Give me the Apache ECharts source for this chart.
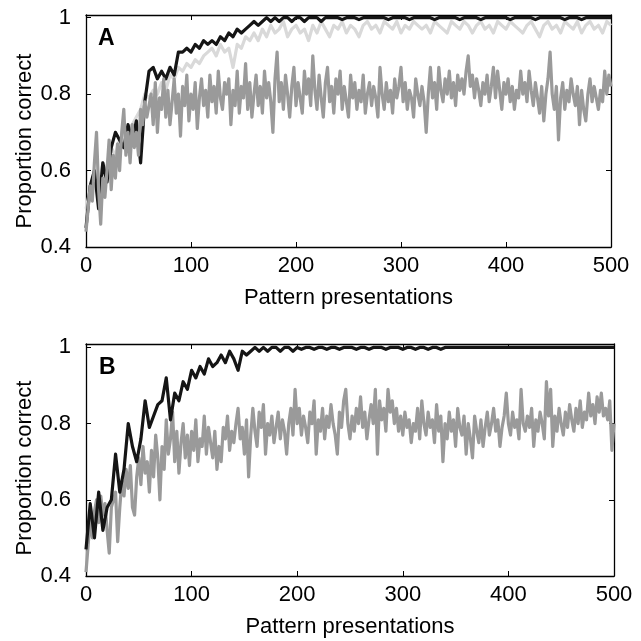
<!DOCTYPE html>
<html>
<head>
<meta charset="utf-8">
<script src="https://cdn.jsdelivr.net/npm/echarts@6/dist/echarts.min.js"></script>
<style>
html,body{margin:0;padding:0;background:#fff;}
#chart{width:641px;height:641px;}
</style>
</head>
<body>
<div id="chart"></div>
<script>
// Sampling grids of pattern presentations (every 4 and every 2, 0..500)
const presentations4 = Array.from({length: 126}, (_, i) => i * 4);
const presentations2 = Array.from({length: 251}, (_, i) => i * 2);
const xTicks = [0, 100, 200, 300, 400, 500];
const yTicks = [0.4, 0.6, 0.8, 1];

// Panel A (step 4)
const aBlack = [
  0.45, 0.56, 0.60, 0.50, 0.62, 0.57, 0.66, 0.70, 0.68, 0.66,
  0.72, 0.68, 0.73, 0.62, 0.78, 0.86, 0.87, 0.84, 0.86, 0.84,
  0.87, 0.85, 0.91, 0.91, 0.92, 0.91, 0.93, 0.92, 0.94, 0.93,
  0.94, 0.93, 0.95, 0.94, 0.96, 0.95, 0.97, 0.96, 0.97, 0.98,
  0.99, 0.98, 0.99, 1.00, 0.99, 1.00, 0.99, 1.00, 1.00, 0.99,
  1.00, 1.00, 0.99, 1.00, 1.00, 1.00, 0.99, 1.00, 1.00, 1.00,
  1.00, 0.995, 1.00, 1.00, 1.00, 0.995, 1.00, 1.00, 1.00, 1.00,
  1.00, 1.00, 0.995, 1.00, 1.00, 1.00, 1.00, 0.995, 1.00, 1.00,
  1.00, 1.00, 1.00, 0.995, 1.00, 1.00, 1.00, 1.00, 1.00, 0.995,
  1.00, 1.00, 1.00, 1.00, 0.995, 1.00, 1.00, 1.00, 1.00, 1.00,
  1.00, 0.995, 1.00, 1.00, 1.00, 1.00, 1.00, 0.995, 1.00, 1.00,
  1.00, 1.00, 1.00, 1.00, 0.995, 1.00, 1.00, 1.00, 0.995, 1.00,
  1.00, 1.00, 1.00, 1.00, 1.00, 1.00
];
const aLight = [
  0.50, 0.55, 0.60, 0.55, 0.62, 0.60, 0.66, 0.64, 0.68, 0.66,
  0.70, 0.72, 0.74, 0.76, 0.80, 0.79, 0.81, 0.80, 0.83, 0.81,
  0.85, 0.84, 0.87, 0.86, 0.88, 0.87, 0.89, 0.88, 0.90, 0.91,
  0.92, 0.90, 0.93, 0.91, 0.92, 0.87, 0.93, 0.92, 0.95, 0.94,
  0.96, 0.94, 0.97, 0.95, 0.98, 0.96, 0.97, 0.99, 0.95, 0.97,
  0.98, 0.96, 0.97, 0.94, 0.98, 0.96, 0.99, 0.97, 0.95, 0.98,
  0.97, 0.99, 0.96, 0.98, 0.97, 0.95, 0.98, 0.99, 0.97, 0.98,
  0.96, 0.99, 0.98, 0.97, 0.99, 0.96, 0.98, 0.97, 0.99, 0.98,
  0.97, 0.98, 0.96, 0.99, 0.98, 0.97, 0.96, 0.99, 0.98, 0.97,
  0.99, 0.98, 0.96, 0.98, 0.99, 0.97, 0.98, 0.96, 0.99, 0.98,
  0.97, 0.99, 0.98, 0.97, 0.96, 0.98, 0.99, 0.97, 0.95, 0.98,
  0.99, 0.97, 0.98, 0.96, 0.99, 0.98, 0.97, 0.99, 0.96, 0.98,
  0.99, 0.97, 0.98, 0.96, 0.99, 0.98
];
// Panel A medium grey (step 2)
const aMid = [
  0.44, 0.50, 0.56, 0.52, 0.62, 0.70, 0.55, 0.46, 0.58, 0.53,
  0.60, 0.68, 0.55, 0.64, 0.58, 0.67, 0.60, 0.70, 0.76, 0.64,
  0.70, 0.62, 0.72, 0.66, 0.70, 0.64, 0.76, 0.72, 0.78, 0.74,
  0.77, 0.80, 0.72, 0.83, 0.70, 0.79, 0.76, 0.84, 0.74, 0.81,
  0.72, 0.78, 0.84, 0.75, 0.80, 0.69, 0.82, 0.77, 0.85, 0.73,
  0.80, 0.76, 0.83, 0.71, 0.79, 0.84, 0.77, 0.81, 0.74, 0.85,
  0.78, 0.82, 0.75, 0.86, 0.79, 0.76, 0.83, 0.80, 0.84, 0.72,
  0.81, 0.77, 0.86, 0.75, 0.82, 0.79, 0.88, 0.76, 0.83, 0.74,
  0.80, 0.85, 0.77, 0.82, 0.75, 0.86, 0.79, 0.83, 0.78, 0.70,
  0.84, 0.91, 0.78, 0.83, 0.76, 0.85, 0.80, 0.74, 0.82, 0.87,
  0.77, 0.83, 0.79, 0.75, 0.86, 0.80, 0.84, 0.77, 0.90, 0.81,
  0.76, 0.85, 0.79, 0.74, 0.83, 0.87, 0.78, 0.82, 0.75, 0.84,
  0.80, 0.86, 0.76, 0.82, 0.78, 0.74, 0.85, 0.79, 0.83, 0.76,
  0.81, 0.78, 0.85, 0.75, 0.80, 0.83, 0.77, 0.82, 0.79, 0.74,
  0.87, 0.80, 0.76, 0.83, 0.78, 0.81, 0.75, 0.84, 0.79, 0.82,
  0.87, 0.78, 0.83, 0.76, 0.81, 0.79, 0.74, 0.84, 0.80, 0.77,
  0.82, 0.78, 0.70, 0.80, 0.87, 0.79, 0.83, 0.76, 0.87, 0.81,
  0.78, 0.84, 0.80, 0.86, 0.79, 0.83, 0.77, 0.85, 0.81, 0.84,
  0.80, 0.86, 0.90, 0.82, 0.85, 0.79, 0.84, 0.81, 0.77, 0.83,
  0.80, 0.85, 0.78, 0.82, 0.87, 0.79, 0.86, 0.81, 0.76, 0.83,
  0.80, 0.84, 0.78, 0.82, 0.76, 0.81, 0.79, 0.86, 0.80, 0.83,
  0.78, 0.86, 0.81, 0.77, 0.83, 0.79, 0.75, 0.82, 0.73, 0.80,
  0.84, 0.91, 0.80, 0.76, 0.82, 0.68, 0.79, 0.83, 0.76, 0.81,
  0.78, 0.84, 0.80, 0.77, 0.82, 0.72, 0.81, 0.76, 0.73, 0.80,
  0.84, 0.78, 0.82, 0.79, 0.76, 0.81, 0.78, 0.86, 0.80, 0.85,
  0.82
];

// Panel B black (step 4)
const bBlack = [
  0.47, 0.59, 0.50, 0.62, 0.52, 0.58, 0.60, 0.72, 0.62, 0.68,
  0.80, 0.74, 0.70, 0.76, 0.86, 0.79, 0.82, 0.85, 0.86, 0.92,
  0.81, 0.88, 0.86, 0.91, 0.89, 0.94, 0.92, 0.95, 0.93, 0.97,
  0.95, 0.96, 0.98, 0.96, 0.99, 0.97, 0.94, 0.99, 0.98, 0.99,
  1.00, 0.99, 1.00, 0.99, 1.00, 1.00, 0.99, 1.00, 1.00, 0.99,
  1.00, 0.995, 1.00, 1.00, 0.995, 1.00, 1.00, 0.995, 1.00, 1.00,
  0.995, 1.00, 1.00, 1.00, 0.995, 1.00, 1.00, 0.995, 1.00, 1.00,
  1.00, 0.995, 1.00, 1.00, 1.00, 0.995, 1.00, 1.00, 0.995, 1.00,
  1.00, 0.995, 1.00, 1.00, 0.995, 1.00, 1.00, 1.00, 1.00, 1.00,
  1.00, 1.00, 1.00, 1.00, 1.00, 1.00, 1.00, 1.00, 1.00, 1.00,
  1.00, 1.00, 1.00, 1.00, 1.00, 1.00, 1.00, 1.00, 1.00, 1.00,
  1.00, 1.00, 1.00, 1.00, 1.00, 1.00, 1.00, 1.00, 1.00, 1.00,
  1.00, 1.00, 1.00, 1.00, 1.00, 1.00
];
// Panel B grey (step 2)
const bGray = [
  0.41, 0.48, 0.55, 0.50, 0.57, 0.60, 0.54, 0.61, 0.56, 0.59,
  0.52, 0.46, 0.58, 0.60, 0.62, 0.49, 0.58, 0.65, 0.61, 0.68,
  0.63, 0.69, 0.58, 0.56, 0.66, 0.71, 0.64, 0.74, 0.67, 0.70,
  0.62, 0.73, 0.66, 0.77, 0.71, 0.60, 0.74, 0.68, 0.81, 0.72,
  0.76, 0.83, 0.70, 0.78, 0.67, 0.75, 0.80, 0.71, 0.77, 0.69,
  0.78, 0.73, 0.81, 0.70, 0.76, 0.74, 0.82, 0.72, 0.79, 0.75,
  0.71, 0.78, 0.68, 0.74, 0.70, 0.79, 0.76, 0.82, 0.73, 0.78,
  0.75, 0.80, 0.84, 0.76, 0.79, 0.72, 0.81, 0.66, 0.77, 0.84,
  0.78, 0.74, 0.83, 0.79, 0.85, 0.72, 0.80, 0.77, 0.82, 0.75,
  0.79, 0.83, 0.76, 0.81, 0.78, 0.72, 0.80, 0.84, 0.77, 0.89,
  0.80, 0.84, 0.77, 0.82, 0.79, 0.75, 0.83, 0.80, 0.86, 0.72,
  0.81, 0.78, 0.84, 0.76, 0.82, 0.79, 0.85, 0.80, 0.77, 0.72,
  0.83, 0.79, 0.86, 0.89, 0.80, 0.76, 0.82, 0.78, 0.84, 0.80,
  0.87, 0.79, 0.83, 0.76, 0.81, 0.85, 0.80, 0.89, 0.72, 0.86,
  0.81, 0.84, 0.78, 0.89, 0.83, 0.86, 0.80, 0.84, 0.78, 0.82,
  0.77, 0.83, 0.79, 0.81, 0.75, 0.80, 0.78, 0.84, 0.76, 0.86,
  0.80, 0.77, 0.83, 0.79, 0.81, 0.75, 0.85, 0.78, 0.82, 0.70,
  0.80, 0.76, 0.83, 0.78, 0.81, 0.74, 0.84, 0.79, 0.77, 0.82,
  0.72, 0.80, 0.76, 0.71, 0.82, 0.78, 0.75, 0.81, 0.74, 0.79,
  0.83, 0.77, 0.80, 0.84, 0.78, 0.81, 0.74, 0.79, 0.82, 0.88,
  0.80, 0.77, 0.83, 0.79, 0.81, 0.76, 0.89, 0.80, 0.78, 0.82,
  0.79, 0.84, 0.74, 0.81, 0.78, 0.83, 0.80, 0.76, 0.91, 0.82,
  0.89, 0.74, 0.82, 0.78, 0.84, 0.80, 0.77, 0.83, 0.79, 0.85,
  0.81, 0.78, 0.84, 0.80, 0.86, 0.79, 0.83, 0.81, 0.88, 0.82,
  0.85, 0.80, 0.87, 0.83, 0.88, 0.82, 0.84, 0.81, 0.86, 0.73,
  0.80
];

const FONT = '"Liberation Sans", Arial, Helvetica, sans-serif';
const FS = 22;
const pair = (xs, arr) => xs.map((x, i) => [x, arr[i]]);
const yFmt = v => {
  const t = yTicks.find(t => Math.abs(t - v) < 1e-6);
  return t === undefined ? '' : String(t);
};
const xFmt = v => (xTicks.indexOf(Math.round(v)) >= 0 ? String(Math.round(v)) : '');

function xAxes(g) {
  return [
    {
      type: 'value', gridIndex: g, min: 0, max: 500, interval: 100, position: 'bottom',
      axisLine: {show: true, onZero: false, lineStyle: {color: '#000', width: 1.3}},
      axisTick: {show: true, inside: true, length: 5, lineStyle: {color: '#000'}},
      axisLabel: {fontSize: FS, color: '#000', fontFamily: FONT, margin: 8, formatter: xFmt},
      splitLine: {show: false},
      name: 'Pattern presentations', nameLocation: 'middle', nameGap: 40,
      nameTextStyle: {fontSize: FS, color: '#000', fontFamily: FONT}
    },
    {
      type: 'value', gridIndex: g, min: 0, max: 500, interval: 100, position: 'top',
      axisLine: {show: true, onZero: false, lineStyle: {color: '#000', width: 1.3}},
      axisTick: {show: true, inside: true, length: 5, lineStyle: {color: '#000'}},
      axisLabel: {show: false}, splitLine: {show: false}
    }
  ];
}
function yAxes(g, max) {
  return [
    {
      type: 'value', gridIndex: g, min: 0.4, max: max, interval: 0.2, position: 'left',
      axisLine: {show: true, onZero: false, lineStyle: {color: '#000', width: 1.3}},
      axisTick: {show: true, inside: true, length: 5, lineStyle: {color: '#000'}},
      axisLabel: {fontSize: FS, color: '#000', fontFamily: FONT, margin: 15, formatter: yFmt},
      splitLine: {show: false}
    },
    {
      type: 'value', gridIndex: g, min: 0.4, max: max, interval: 0.2, position: 'right',
      axisLine: {show: true, onZero: false, lineStyle: {color: '#000', width: 1.3}},
      axisTick: {show: true, inside: true, length: 5, lineStyle: {color: '#000'}},
      axisLabel: {show: false}, splitLine: {show: false}
    }
  ];
}
function line(xs, data, color, xi, yi, z) {
  return {
    type: 'line', data: pair(xs, data), xAxisIndex: xi, yAxisIndex: yi,
    showSymbol: false, symbol: 'none', z: z,
    lineStyle: {color: color, width: 3.2, join: 'round'}
  };
}

const chart = echarts.init(document.getElementById('chart'), null, {renderer: 'canvas'});
chart.setOption({
  animation: false,
  backgroundColor: '#fff',
  grid: [
    {left: 86, top: 15, width: 525, height: 232},
    {left: 86, top: 344, width: 528, height: 232}
  ],
  xAxis: [...xAxes(0), ...xAxes(1)],
  yAxis: [...yAxes(0, 1.007), ...yAxes(1, 1.009)],
  series: [
    line(presentations4, aLight, '#d9d9d9', 0, 0, 2),
    line(presentations4, aBlack, '#151515', 0, 0, 3),
    line(presentations2, aMid, '#9a9a9a', 0, 0, 4),
    line(presentations2, bGray, '#9a9a9a', 2, 2, 2),
    line(presentations4, bBlack, '#151515', 2, 2, 3)
  ],
  graphic: [
    {type: 'text', left: 98, top: 27, style: {text: 'A', font: 'bold 23px ' + FONT, fill: '#000'}},
    {type: 'text', left: 99, top: 356, style: {text: 'B', font: 'bold 23px ' + FONT, fill: '#000'}},
    {type: 'text', x: 25, y: 141, rotation: Math.PI / 2,
     style: {text: 'Proportion correct', font: FS + 'px ' + FONT, fill: '#000', align: 'center', verticalAlign: 'middle'}},
    {type: 'text', x: 25, y: 468, rotation: Math.PI / 2,
     style: {text: 'Proportion correct', font: FS + 'px ' + FONT, fill: '#000', align: 'center', verticalAlign: 'middle'}}
  ]
});
</script>
</body>
</html>
